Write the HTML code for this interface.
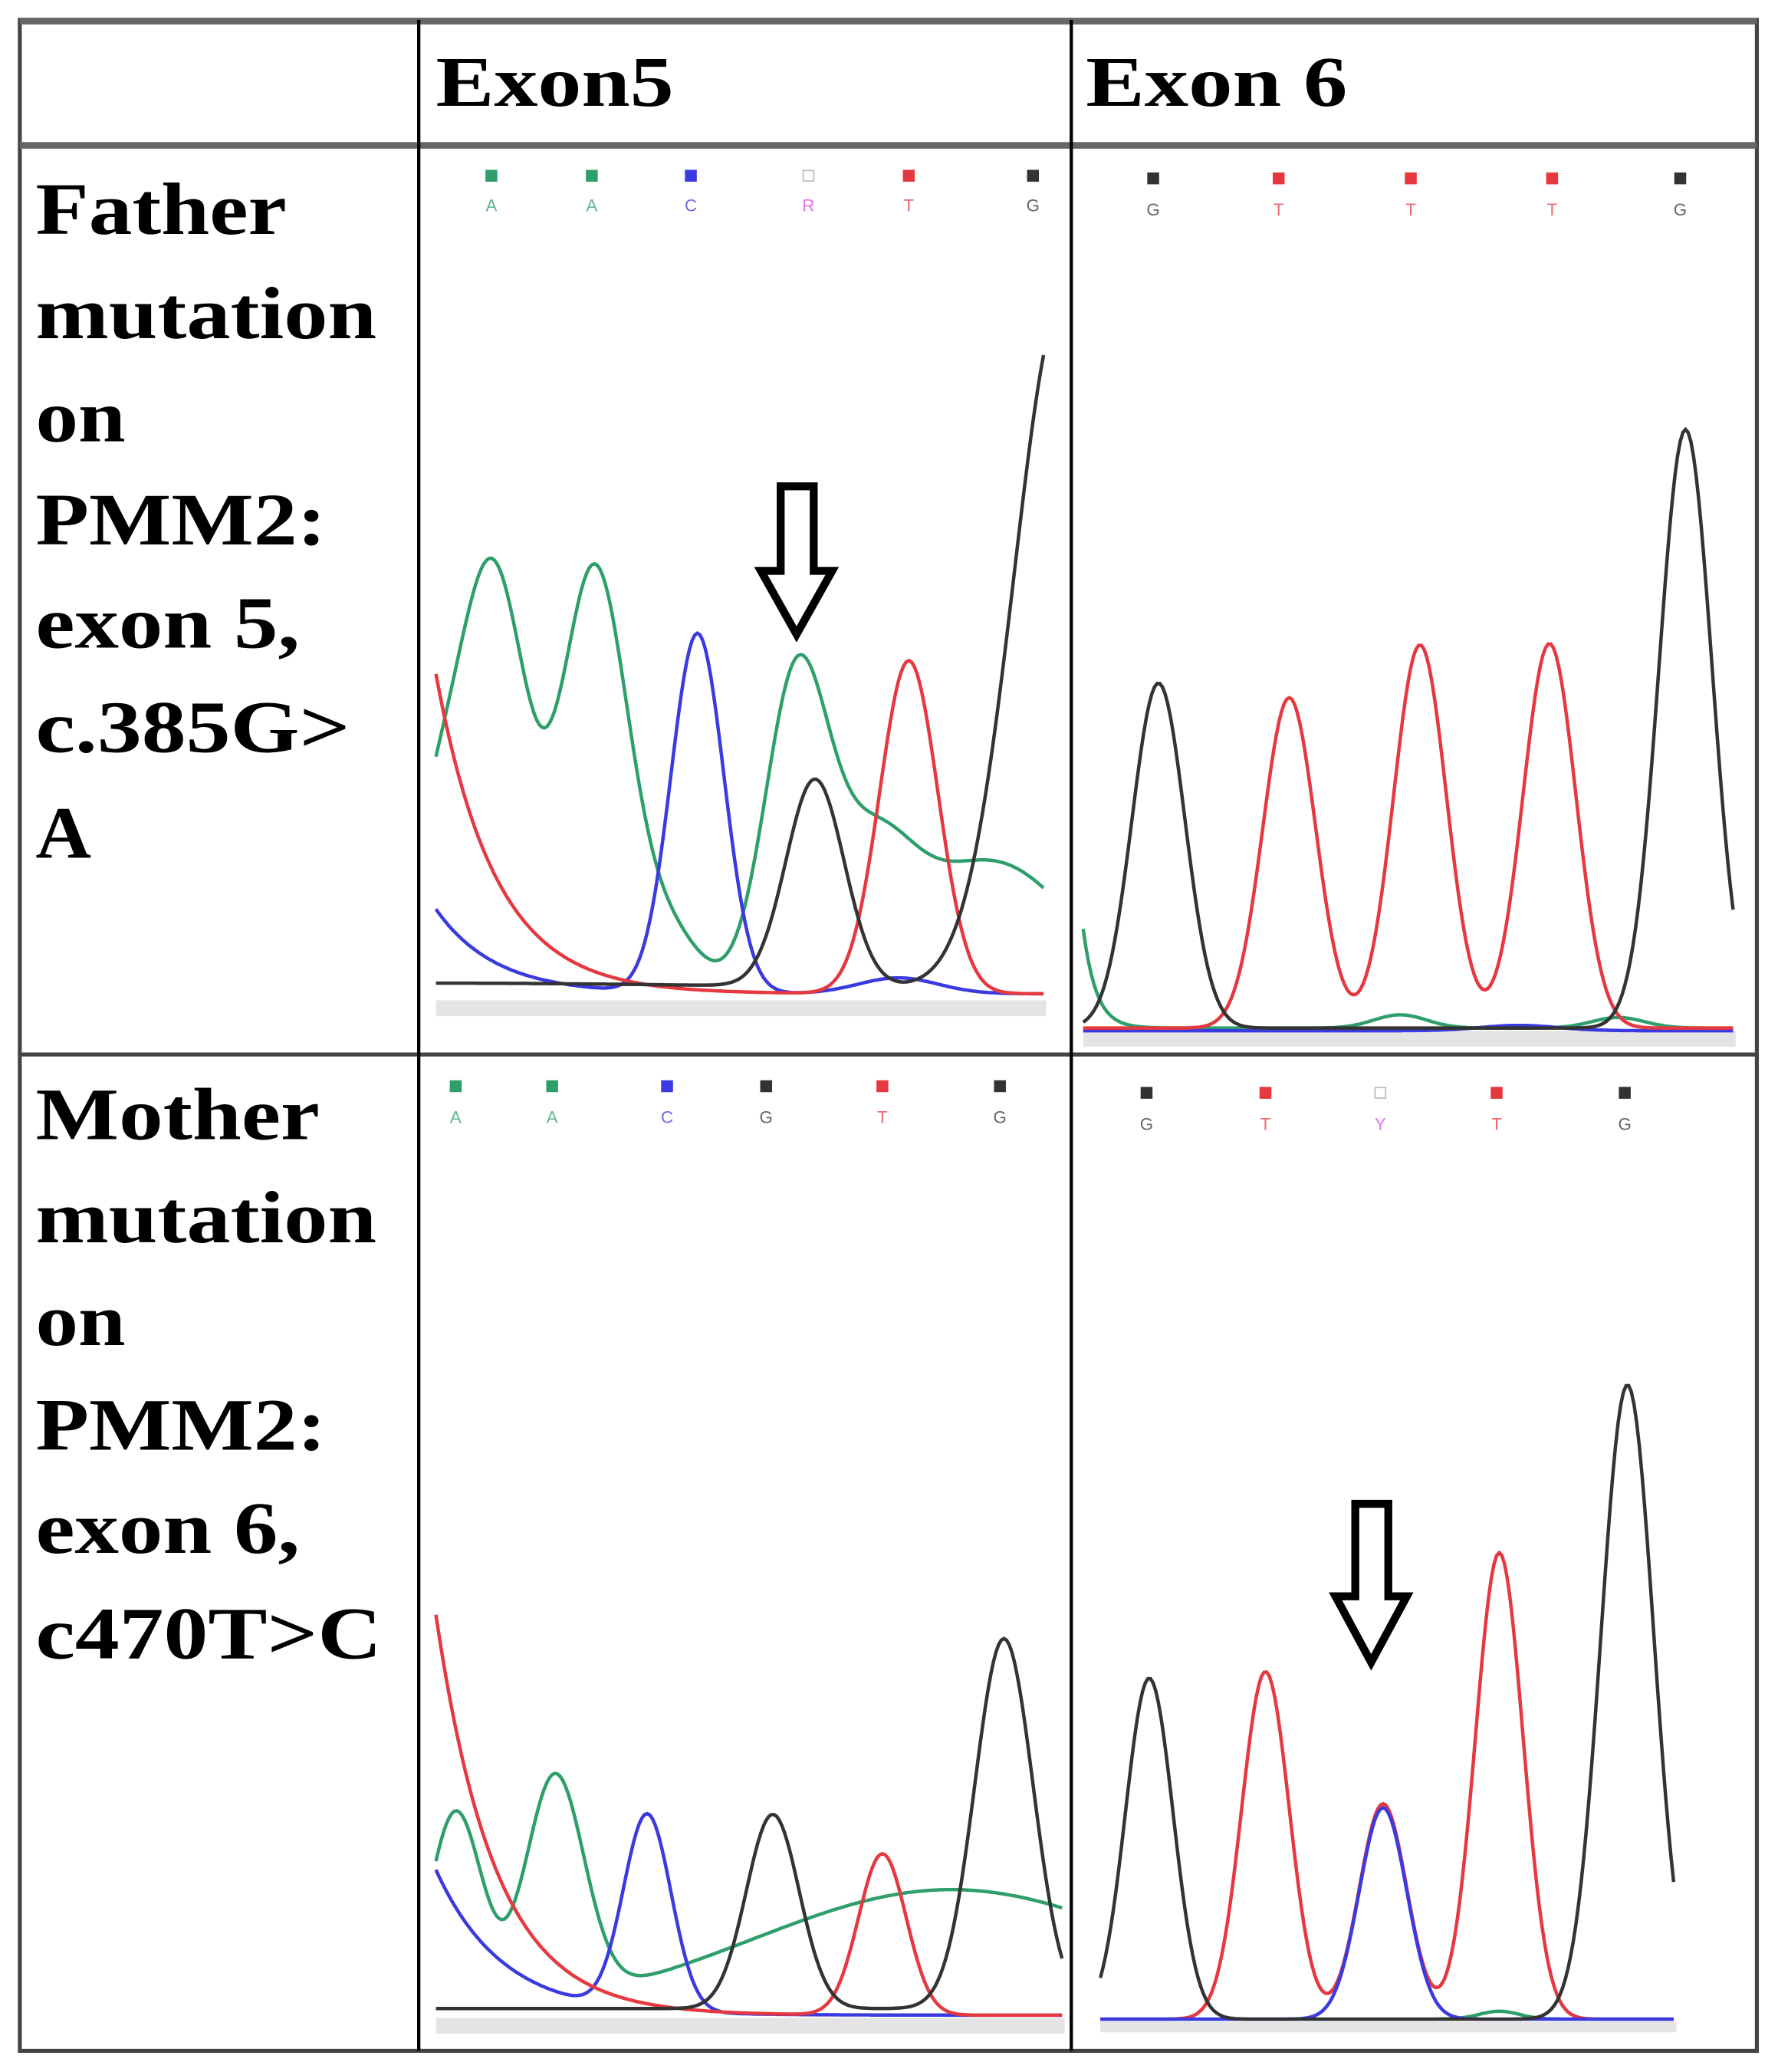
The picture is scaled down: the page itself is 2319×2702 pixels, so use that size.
<!DOCTYPE html>
<html><head><meta charset="utf-8"><style>
html,body{margin:0;padding:0;background:#fff}
svg{display:block}
text{font-family:"Liberation Serif",serif;font-weight:bold;fill:#000}
.b{font-family:"Liberation Sans",sans-serif;font-weight:normal;font-size:13px}
</style></head><body>
<svg id="fig" width="2319" height="2702" viewBox="0 0 1346 1568" preserveAspectRatio="none" xmlns="http://www.w3.org/2000/svg">
<defs>
<clipPath id="c1"><rect x="328" y="115" width="465" height="680"/></clipPath>
<clipPath id="c2"><rect x="818" y="115" width="496" height="680"/></clipPath>
<clipPath id="c3"><rect x="328" y="803" width="480" height="745"/></clipPath>
<clipPath id="c4"><rect x="832" y="803" width="438" height="745"/></clipPath>
</defs>
<g fill="#e4e4e4">
<rect x="330" y="757" width="462" height="12"/>
<rect x="820" y="780" width="494" height="12"/>
<rect x="330" y="1527" width="476" height="12"/>
<rect x="833" y="1530" width="436" height="8"/>
</g>
<g id="traces"></g>
<g id="labels"></g>
<g stroke="#000" stroke-width="2.5" fill="none">
<rect x="15" y="15" width="1315" height="1537" stroke="#444" stroke-width="3"/>
<line x1="15" y1="16" x2="1330" y2="16" stroke="#666" stroke-width="5"/>
<line x1="15" y1="110" x2="1330" y2="110" stroke="#666" stroke-width="5"/>
<line x1="15" y1="798" x2="1330" y2="798" stroke="#444" stroke-width="3"/>
<line x1="317" y1="15" x2="317" y2="1552"/>
<line x1="811" y1="15" x2="811" y2="1552"/>
</g>
<text x="330" y="80" font-size="54" textLength="180" lengthAdjust="spacingAndGlyphs">Exon5</text>
<text x="822" y="80" font-size="54" textLength="198" lengthAdjust="spacingAndGlyphs">Exon 6</text>
<g font-size="56">
<text x="27" y="177" textLength="190" lengthAdjust="spacingAndGlyphs">Father</text>
<text x="27" y="256" textLength="258" lengthAdjust="spacingAndGlyphs">mutation</text>
<text x="27" y="334" textLength="68" lengthAdjust="spacingAndGlyphs">on</text>
<text x="27" y="412" textLength="220" lengthAdjust="spacingAndGlyphs">PMM2:</text>
<text x="27" y="490" textLength="200" lengthAdjust="spacingAndGlyphs">exon 5,</text>
<text x="27" y="569" textLength="238" lengthAdjust="spacingAndGlyphs">c.385G&gt;</text>
<text x="27" y="649" textLength="42" lengthAdjust="spacingAndGlyphs">A</text>
</g>
<g font-size="56">
<text x="27" y="862" textLength="215" lengthAdjust="spacingAndGlyphs">Mother</text>
<text x="27" y="940" textLength="258" lengthAdjust="spacingAndGlyphs">mutation</text>
<text x="27" y="1018" textLength="68" lengthAdjust="spacingAndGlyphs">on</text>
<text x="27" y="1097" textLength="220" lengthAdjust="spacingAndGlyphs">PMM2:</text>
<text x="27" y="1175" textLength="200" lengthAdjust="spacingAndGlyphs">exon 6,</text>
<text x="27" y="1255" textLength="262" lengthAdjust="spacingAndGlyphs">c470T&gt;C</text>
</g>
<path d="M591,368 L616,368 L616,432 L630,432 L603,480 L576,432 L591,432 Z" fill="#fff" stroke="#000" stroke-width="6" stroke-linejoin="miter"/>
<path d="M1026,1138 L1051,1138 L1051,1208 L1065,1208 L1038,1258 L1011,1208 L1026,1208 Z" fill="#fff" stroke="#000" stroke-width="6"/>
</svg>
<script>
const COL={g:'#2e9e6a',b:'#3a3ae0',r:'#e5383f',k:'#333333',m:'#e040e0'};
// peaks: [centre, height, sigma]; decays: [start, amplitude, scale]
const p1Base=752, p1X=[330,790];
const p1Green=[[330,120,25],[375,300,25],[450,318,25],[505,45,25],[603,235,24],[660,90,30],[750,100,60]];
const p1Blue=[[528,272,20],[680,12,30]];
const p1BlueDecay=[330,64,45];
const p1Red=[[688,252,22]];
const p1RedDecay=[330,242,45];
const p1Black=[[617,157,22],[805,520,37],[330,4,200]];
const p2Base=778, p2X=[820,1312];
const p2Black=[[877,261,20],[1276,453,20]];
const p2Red=[[976,250,20],[1075,290,20],[1173,291,20]];
const p2Green=[[1060,10,20],[1225,8,20]];
const p2GreenDecay=[820,75,10];
const p3Base=1525, p3X=[330,805];
const p3Red=[[668,122,18]];
const p3RedDecay=[330,303,45];
const p3Green=[[345,150,20],[420,170,22],[720,95,150]];
const p3Blue=[[490,148,18]];
const p3BlueDecay=[330,110,50];
const p3Black=[[585,147,20],[760,280,22]];
const p4Base=1528, p4X=[833,1268];
const p4Black=[[870,258,18],[1232,480,20]];
const p4Red=[[958,263,18],[1047,163,18],[1135,353,18]];
const p4Blue=[[1047,160,18]];
const p4Green=[[1135,6,15]];
const lab1=['A','A','C','R','T','G'], lab1x=[372,448,523,612,688,782], lab1c=['g','g','b','m','r','k'];
const lab2=['G','T','T','T','G'], lab2x=[873,968,1068,1175,1272], lab2c=['k','r','r','r','k'];
const lab3=['A','A','C','G','T','G'], lab3x=[345,418,505,580,668,757], lab3c=['g','g','b','k','r','k'];
const lab4=['G','T','Y','T','G'], lab4x=[868,958,1045,1133,1230], lab4c=['k','r','m','r','k'];
const NS='http://www.w3.org/2000/svg';
function val(x,peaks,decay){let v=0;for(const p of peaks){v+=p[1]*Math.exp(-((x-p[0])**2)/(2*p[2]*p[2]));}
 if(decay&&x>=decay[0])v+=decay[1]*Math.exp(-(x-decay[0])/decay[2]);return v;}
function trace(name,clip,base,xr,peaks,decay,color){
 let d='';for(let x=xr[0];x<=xr[1];x+=2){const y=base-val(x,peaks,decay);d+=(d?'L':'M')+x+','+y.toFixed(1);}
 const p=document.createElementNS(NS,'path');p.setAttribute('d',d);p.setAttribute('fill','none');p.setAttribute('stroke',color);p.setAttribute('stroke-width','2.6');p.setAttribute('clip-path','url(#'+clip+')');
 
 
 document.getElementById('traces').appendChild(p);}
trace('father-exon5-green-trace','c1',p1Base,p1X,p1Green,null,COL.g);
trace('father-exon5-blue-trace','c1',p1Base,p1X,p1Blue,p1BlueDecay,COL.b);
trace('father-exon5-red-trace','c1',p1Base,p1X,p1Red,p1RedDecay,COL.r);
trace('father-exon5-black-trace','c1',p1Base-4,p1X,p1Black,null,COL.k);
trace('father-exon6-green-trace','c2',p2Base,p2X,p2Green,p2GreenDecay,COL.g);
trace('father-exon6-blue-trace','c2',p2Base+2,p2X,[[1150,4,30]],null,COL.b);
trace('father-exon6-red-trace','c2',p2Base,p2X,p2Red,null,COL.r);
trace('father-exon6-black-trace','c2',p2Base,p2X,p2Black,null,COL.k);
trace('mother-exon5-green-trace','c3',p3Base,p3X,p3Green,null,COL.g);
trace('mother-exon5-blue-trace','c3',p3Base,p3X,p3Blue,p3BlueDecay,COL.b);
trace('mother-exon5-red-trace','c3',p3Base,p3X,p3Red,p3RedDecay,COL.r);
trace('mother-exon5-black-trace','c3',p3Base-5,p3X,p3Black,null,COL.k);
trace('mother-exon6-green-trace','c4',p4Base,p4X,p4Green,null,COL.g);
trace('mother-exon6-red-trace','c4',p4Base,p4X,p4Red,null,COL.r);
trace('mother-exon6-blue-trace','c4',p4Base,p4X,p4Blue,null,COL.b);
trace('mother-exon6-black-trace','c4',p4Base,p4X,p4Black,null,COL.k);
function labels(prefix,labs,xs,cs,ySq,yTxt){
 const g=document.getElementById('labels');
 labs.forEach((l,i)=>{
  const c=cs[i]==='m'?'#bbb':COL[cs[i]];
  const r=document.createElementNS(NS,'rect');r.setAttribute('x',xs[i]-4);r.setAttribute('y',ySq-4);r.setAttribute('width',8);r.setAttribute('height',8);
  r.setAttribute('fill',cs[i]==='m'?'none':c);r.setAttribute('stroke',c);
  
  
  g.appendChild(r);
  const t=document.createElementNS(NS,'text');t.setAttribute('x',xs[i]);t.setAttribute('y',yTxt);t.setAttribute('text-anchor','middle');t.setAttribute('class','b');t.setAttribute('style','fill:'+COL[cs[i]]+';opacity:.75');t.textContent=l;
  
  
  g.appendChild(t);});}
labels('father-exon5',lab1,lab1x,lab1c,133,160);
labels('father-exon6',lab2,lab2x,lab2c,135,163);
labels('mother-exon5',lab3,lab3x,lab3c,822,850);
labels('mother-exon6',lab4,lab4x,lab4c,827,855);
</script>
</body></html>
